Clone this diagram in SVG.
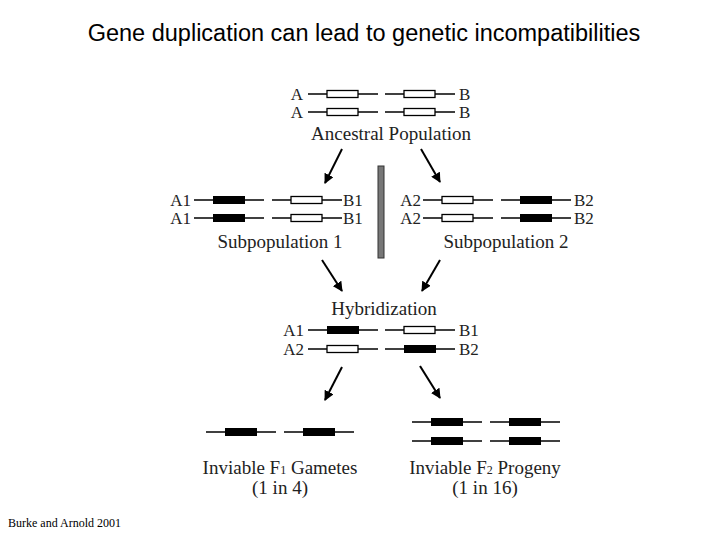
<svg xmlns="http://www.w3.org/2000/svg" width="720" height="540" viewBox="0 0 720 540">
<defs>
<style>
.l{stroke:#000;stroke-width:1.5}
.w{fill:#fff;stroke:#000;stroke-width:1.3}
.b{fill:#000}
.t{font-family:"Liberation Serif",serif;font-size:17px;fill:#222}
.c{font-family:"Liberation Serif",serif;font-size:19px;fill:#222}
.a{stroke:#000;stroke-width:2;fill:none;marker-end:url(#ah)}
</style>
<marker id="ah" viewBox="0 0 10 10" refX="9" refY="5" markerWidth="5" markerHeight="5" orient="auto"><path d="M0,0L10,5L0,10z"/></marker>
<g id="wseg"><line class="l" x1="0" y1="0" x2="70" y2="0"/><rect class="w" x="19" y="-3.5" width="31" height="7"/></g>
<g id="bseg"><line class="l" x1="0" y1="0" x2="70" y2="0"/><rect class="b" x="19" y="-4" width="32" height="8"/></g>
</defs>
<rect width="720" height="540" fill="#fff"/>
<text x="364" y="41" text-anchor="middle" font-family="Liberation Sans,sans-serif" font-size="23.5">Gene duplication can lead to genetic incompatibilities</text>
<g id="ancestral">
<use href="#wseg" x="308" y="94"/><use href="#wseg" x="385" y="94"/>
<use href="#wseg" x="308" y="112"/><use href="#wseg" x="385" y="112"/>
<text class="t" x="297" y="100" text-anchor="middle">A</text><text class="t" x="297" y="118" text-anchor="middle">A</text>
<text class="t" x="459" y="100">B</text><text class="t" x="459" y="118">B</text>
<text class="c" x="391" y="140" text-anchor="middle">Ancestral Population</text>
</g>
<g id="sub1">
<use href="#bseg" x="194" y="200"/><use href="#wseg" x="272" y="200"/>
<use href="#bseg" x="194" y="218"/><use href="#wseg" x="272" y="218"/>
<text class="t" x="191" y="206" text-anchor="end">A1</text><text class="t" x="191" y="224" text-anchor="end">A1</text>
<text class="t" x="343" y="206">B1</text><text class="t" x="343" y="224">B1</text>
<text class="c" x="280" y="248" text-anchor="middle">Subpopulation 1</text>
</g>
<g id="sub2">
<use href="#wseg" x="423" y="200"/><use href="#bseg" x="501" y="200"/>
<use href="#wseg" x="423" y="218"/><use href="#bseg" x="501" y="218"/>
<text class="t" x="421" y="206" text-anchor="end">A2</text><text class="t" x="421" y="224" text-anchor="end">A2</text>
<text class="t" x="574" y="206">B2</text><text class="t" x="574" y="224">B2</text>
<text class="c" x="506" y="248" text-anchor="middle">Subpopulation 2</text>
</g>
<g id="barrier"><rect x="378" y="166" width="6" height="92" fill="#777" stroke="#333" stroke-width="1"/></g>
<g id="hybrid">
<text class="c" x="384" y="315" text-anchor="middle">Hybridization</text>
<use href="#bseg" x="308" y="330"/><use href="#wseg" x="385" y="330"/>
<use href="#wseg" x="308" y="349"/><use href="#bseg" x="385" y="349"/>
<text class="t" x="304" y="336" text-anchor="end">A1</text><text class="t" x="304" y="355" text-anchor="end">A2</text>
<text class="t" x="459" y="336">B1</text><text class="t" x="459" y="355">B2</text>
</g>
<g id="f1">
<use href="#bseg" x="206" y="432"/><use href="#bseg" x="284" y="432"/>
<text class="c" x="280" y="474" text-anchor="middle">Inviable F<tspan font-size="12">1</tspan> Gametes</text>
<text class="c" x="280" y="494" text-anchor="middle">(1 in 4)</text>
</g>
<g id="f2">
<use href="#bseg" x="412" y="422"/><use href="#bseg" x="490" y="422"/>
<use href="#bseg" x="412" y="441"/><use href="#bseg" x="490" y="441"/>
<text class="c" x="485" y="474" text-anchor="middle">Inviable F<tspan font-size="12">2</tspan> Progeny</text>
<text class="c" x="485" y="494" text-anchor="middle">(1 in 16)</text>
</g>
<g id="connectors">
<line class="a" x1="342" y1="149" x2="325" y2="183"/>
<line class="a" x1="421" y1="149" x2="440" y2="182"/>
<line class="a" x1="322" y1="260" x2="342" y2="291"/>
<line class="a" x1="440" y1="260" x2="422" y2="291"/>
<line class="a" x1="342" y1="367" x2="325" y2="400"/>
<line class="a" x1="420" y1="366" x2="440" y2="398"/>
</g>
<text x="8" y="527" font-family="Liberation Serif,serif" font-size="12">Burke and Arnold 2001</text>
</svg>
